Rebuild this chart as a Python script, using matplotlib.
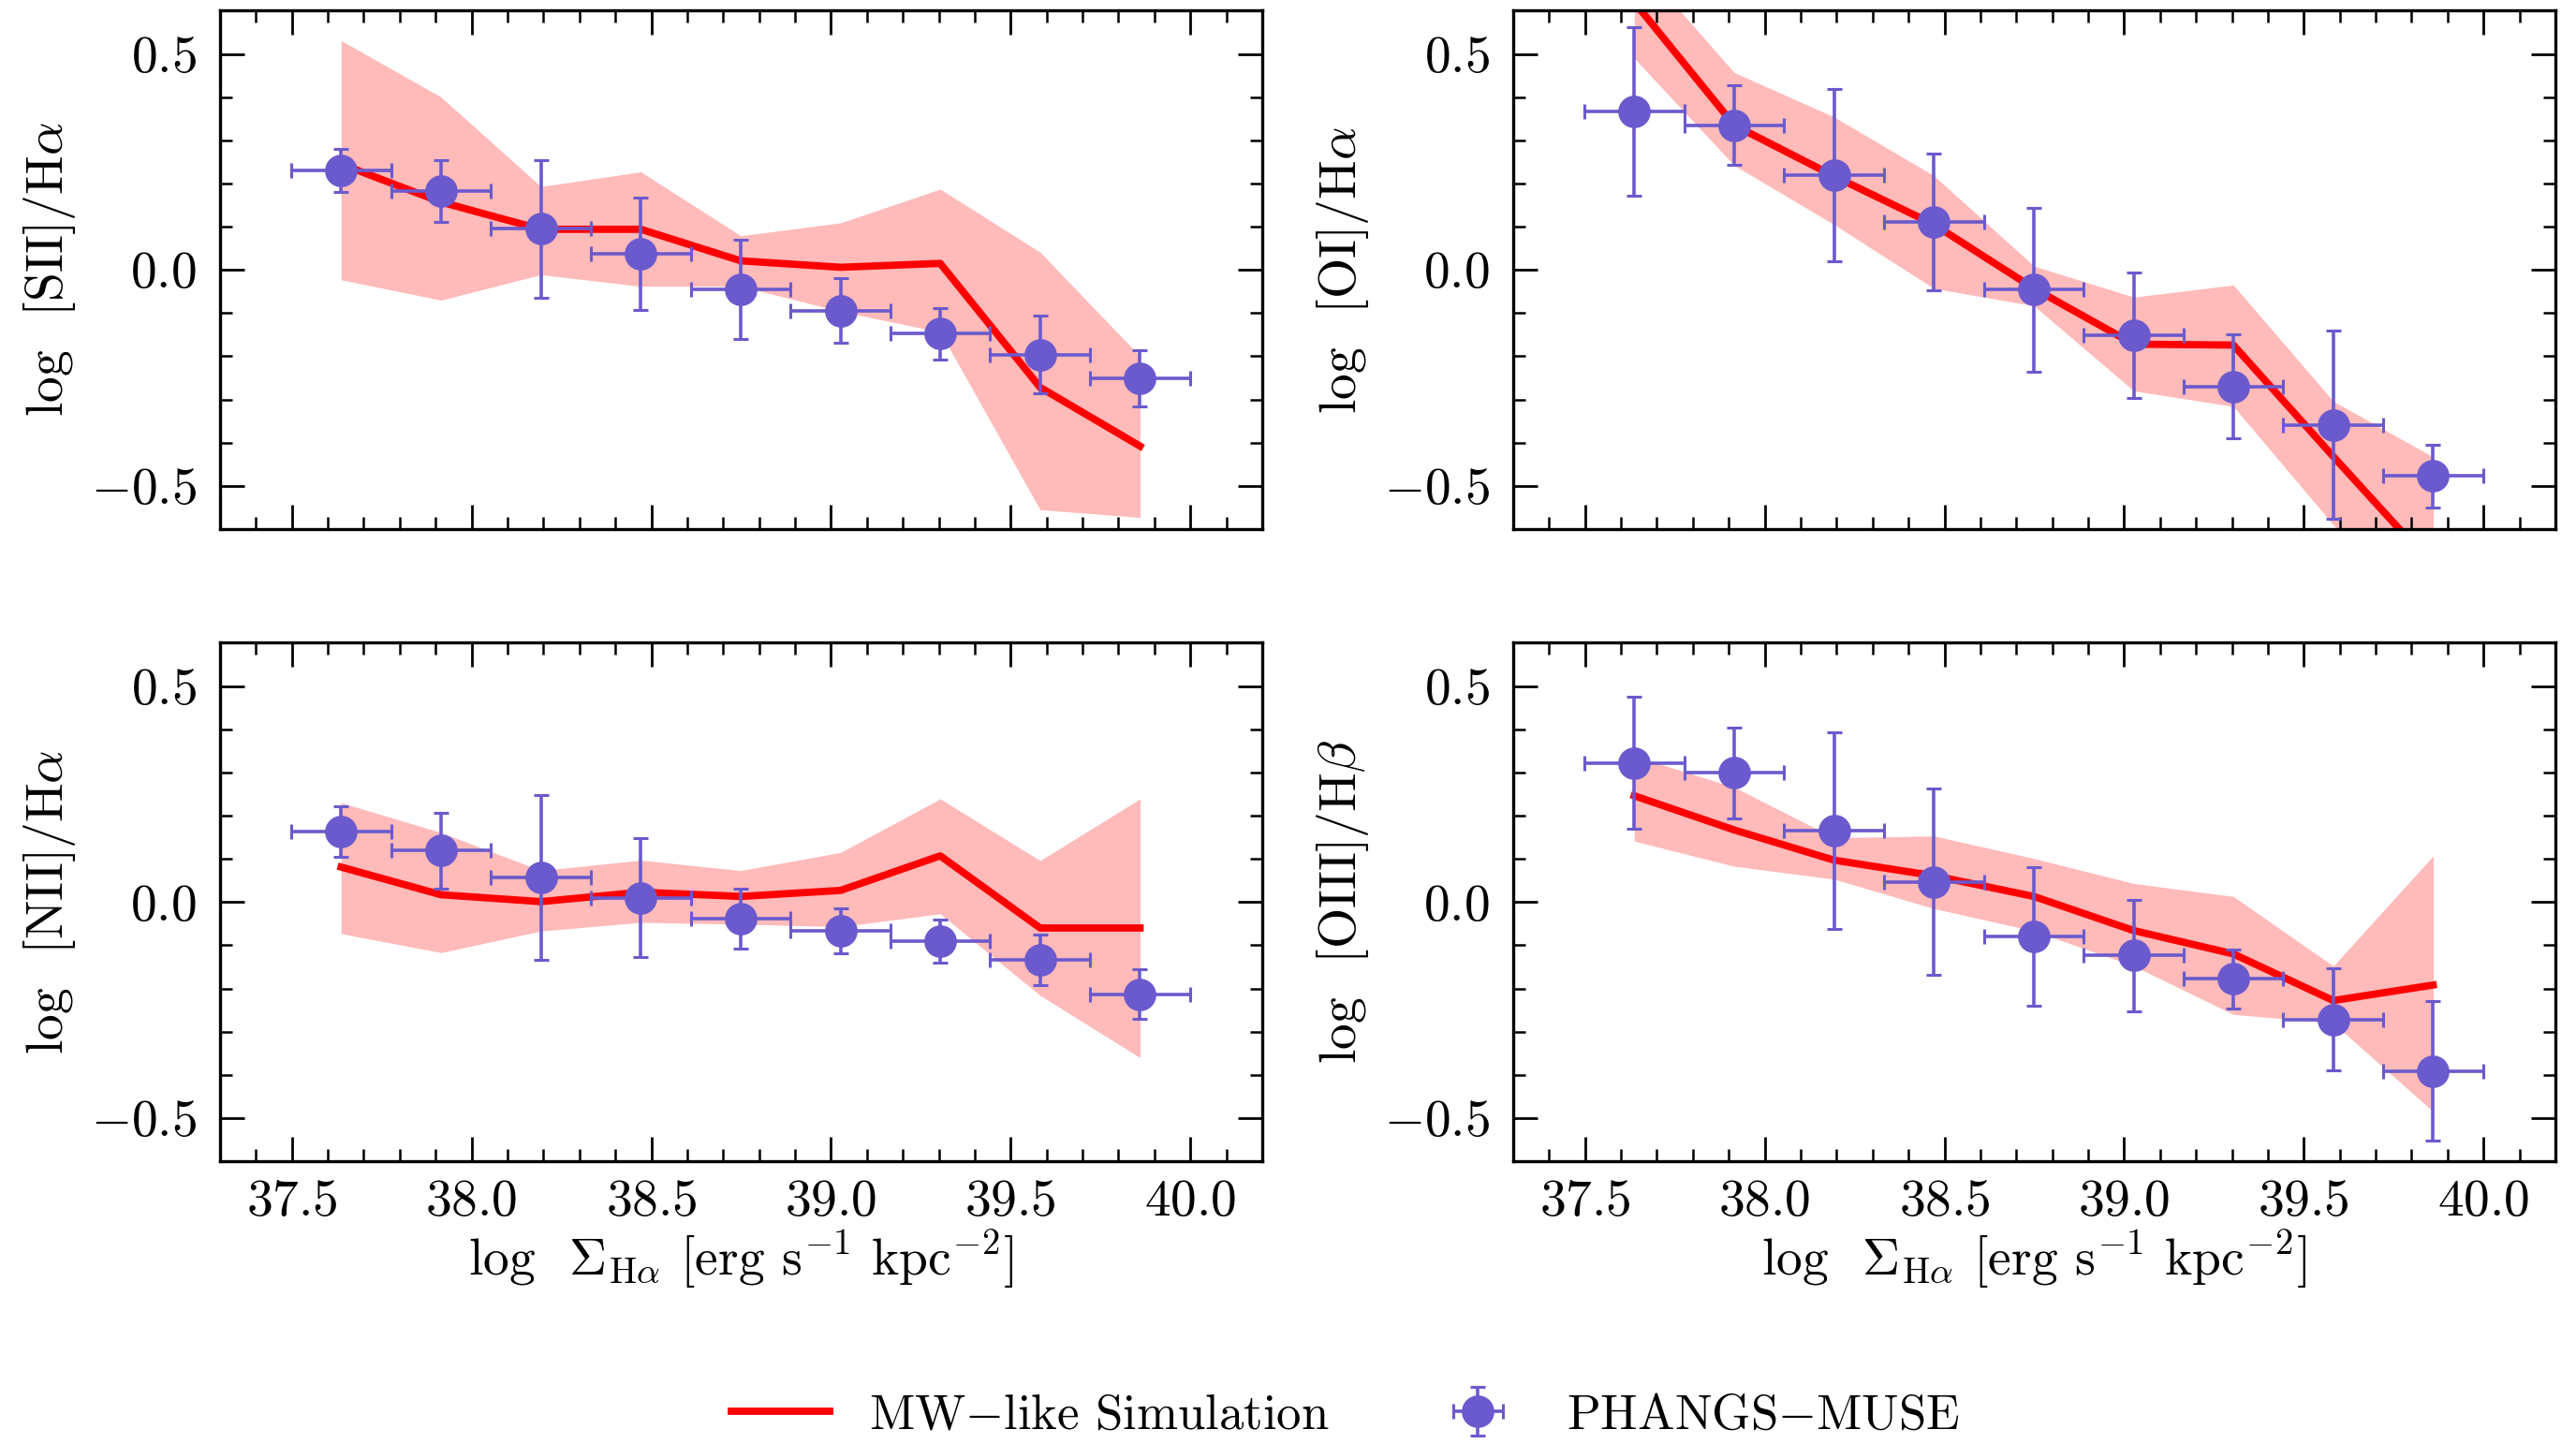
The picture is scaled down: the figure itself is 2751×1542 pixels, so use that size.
import matplotlib
matplotlib.use("Agg")
import matplotlib.pyplot as plt
from matplotlib.ticker import MultipleLocator

# ---------------- data ----------------
log_sigma_ha = [37.637, 37.915, 38.193, 38.471, 38.749, 39.027, 39.304, 39.582, 39.860]
x_halfbin = 0.139

# [SII]/Halpha
sii_obs = [0.231, 0.183, 0.095, 0.037, -0.046, -0.094, -0.148, -0.196, -0.250]
sii_err = [0.050, 0.072, 0.160, 0.130, 0.115, 0.075, 0.060, 0.090, 0.065]
sii_sim = [0.245, 0.157, 0.094, 0.094, 0.021, 0.006, 0.015, -0.272, -0.408]
sii_hi = [0.531, 0.400, 0.193, 0.227, 0.079, 0.109, 0.187, 0.041, -0.200]
sii_lo = [-0.023, -0.070, -0.011, -0.038, -0.038, -0.096, -0.144, -0.555, -0.573]

# [OI]/Halpha
oi_obs = [0.366, 0.335, 0.219, 0.111, -0.046, -0.152, -0.270, -0.359, -0.477]
oi_err = [0.195, 0.092, 0.200, 0.158, 0.190, 0.145, 0.120, 0.218, 0.073]
oi_sim = [0.620, 0.335, 0.217, 0.105, -0.043, -0.172, -0.174, -0.432, -0.686]
oi_hi = [0.720, 0.457, 0.354, 0.218, 0.009, -0.063, -0.035, -0.304, -0.433]
oi_lo = [0.490, 0.242, 0.105, -0.043, -0.083, -0.280, -0.316, -0.590, -0.850]

# [NII]/Halpha
nii_obs = [0.163, 0.119, 0.057, 0.010, -0.038, -0.067, -0.090, -0.134, -0.213]
nii_err = [0.058, 0.088, 0.190, 0.138, 0.070, 0.052, 0.050, 0.058, 0.058]
nii_sim = [0.081, 0.017, 0.001, 0.023, 0.013, 0.027, 0.107, -0.060, -0.060]
nii_hi = [0.230, 0.161, 0.073, 0.097, 0.073, 0.115, 0.239, 0.096, 0.239]
nii_lo = [-0.073, -0.117, -0.067, -0.047, -0.051, -0.057, -0.027, -0.216, -0.360]

# [OIII]/Hbeta
oiii_obs = [0.322, 0.299, 0.165, 0.047, -0.079, -0.124, -0.178, -0.272, -0.391]
oiii_err = [0.153, 0.105, 0.228, 0.215, 0.160, 0.128, 0.068, 0.118, 0.162]
oiii_sim = [0.246, 0.167, 0.097, 0.061, 0.013, -0.066, -0.120, -0.228, -0.192]
oiii_hi = [0.338, 0.266, 0.149, 0.153, 0.101, 0.043, 0.013, -0.148, 0.107]
oiii_lo = [0.141, 0.083, 0.053, -0.015, -0.067, -0.148, -0.260, -0.280, -0.485]

ylabels = [r"log  [SII]/H$\alpha$", r"log  [OI]/H$\alpha$",
           r"log  [NII]/H$\alpha$", r"log  [OIII]/H$\beta$"]
xlabel = r"log  $\Sigma_{\rm H\alpha}$ [erg s$^{-1}$ kpc$^{-2}$]"
legend_labels = [r"MW$-$like Simulation", r"PHANGS$-$MUSE"]

panels = [
    (sii_obs, sii_err, sii_sim, sii_hi, sii_lo),
    (oi_obs, oi_err, oi_sim, oi_hi, oi_lo),
    (nii_obs, nii_err, nii_sim, nii_hi, nii_lo),
    (oiii_obs, oiii_err, oiii_sim, oiii_hi, oiii_lo),
]

# ---------------- style ----------------
plt.rcParams.update({
    "font.family": "serif",
    "font.serif": ["cmr10", "DejaVu Serif"],
    "mathtext.fontset": "cm",
    "axes.formatter.use_mathtext": True,
    "font.size": 20,
    "axes.linewidth": 1.2,
    "xtick.direction": "in",
    "ytick.direction": "in",
    "xtick.top": True,
    "ytick.right": True,
    "xtick.major.size": 9.4,
    "ytick.major.size": 9.4,
    "xtick.minor.size": 4.7,
    "ytick.minor.size": 4.7,
    "xtick.major.width": 1.0,
    "ytick.major.width": 1.0,
    "xtick.minor.width": 0.9,
    "ytick.minor.width": 0.9,
    "xtick.major.pad": 7,
    "ytick.major.pad": 9,
})

fig = plt.figure(figsize=(13.755, 7.71), dpi=200)

lefts = [0.0854, 0.5874]
width = 0.4046
bottoms = [0.6336, 0.1958]
height = 0.3590

line_color = "#ff0000"
pt_color = "#6a5acd"

handles = None
for i, (obs, err, sim, hi, lo) in enumerate(panels):
    r, c = divmod(i, 2)
    ax = fig.add_axes([lefts[c], bottoms[r], width, height])
    ax.fill_between(log_sigma_ha, lo, hi, color=line_color, alpha=0.27, lw=0, zorder=1)
    ln, = ax.plot(log_sigma_ha, sim, color=line_color, lw=2.8, zorder=2,
                  label=legend_labels[0])
    eb = ax.errorbar(log_sigma_ha, obs, yerr=err, xerr=x_halfbin, fmt="o",
                     color=pt_color, ms=11.5, elinewidth=1.3, capsize=2.9,
                     capthick=1.1, zorder=3, label=legend_labels[1])
    ax.set_xlim(37.3, 40.2)
    ax.set_ylim(-0.6, 0.6)
    ax.xaxis.set_major_locator(MultipleLocator(0.5))
    ax.xaxis.set_minor_locator(MultipleLocator(0.1))
    ax.yaxis.set_major_locator(MultipleLocator(0.5))
    ax.yaxis.set_minor_locator(MultipleLocator(0.1))
    ax.set_ylabel(ylabels[i], labelpad=5)
    if r == 0:
        ax.tick_params(labelbottom=False)
    else:
        ax.set_xlabel(xlabel, labelpad=1)
    handles = [ln, eb]

fig.legend(handles, legend_labels, loc="center", bbox_to_anchor=(0.5223, 0.0195),
           ncol=2, frameon=False, fontsize=19)

fig.savefig("out.png", dpi=200)
